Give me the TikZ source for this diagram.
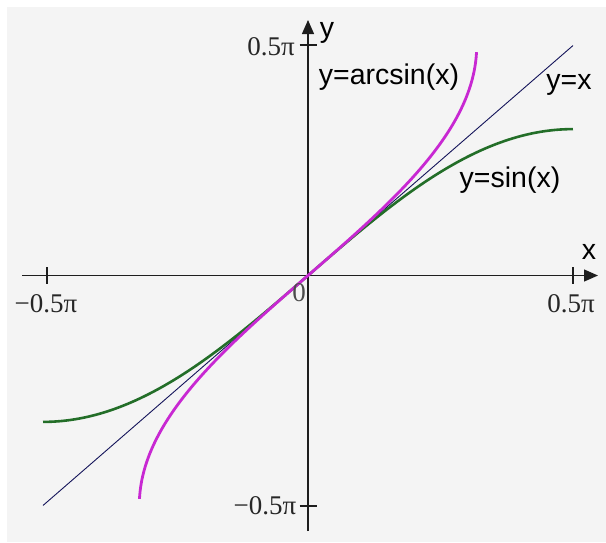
\documentclass[tikz,border=0pt]{standalone}
\usepackage{fontspec}
\setmainfont{Liberation Serif}
\newfontfamily\lsans{Liberation Sans}
\usetikzlibrary{arrows.meta}
\definecolor{bggray}{RGB}{244,244,244}
\definecolor{axisgray}{RGB}{30,30,30}
\definecolor{sincol}{RGB}{35,110,40}
\definecolor{asincol}{RGB}{200,40,210}
\definecolor{idcol}{RGB}{20,20,90}
\tikzset{
  axisline/.style={draw=axisgray, line width=1.3pt, -{Triangle[length=14pt,width=12pt]}},
  tickline/.style={draw=axisgray, line width=1.3pt},
  serlab/.style={inner sep=0pt, font=\fontsize{27}{29}\selectfont, text=black!85},
  sanslab/.style={inner sep=0pt, font=\lsans\fontsize{28.5}{31}\selectfont, text=black},
  sincurve/.style={draw=sincol, line width=2.6pt},
  asincurve/.style={draw=asincol, line width=2.8pt},
  idline/.style={draw=idcol, line width=0.9pt}
}
\begin{document}
\begin{tikzpicture}[x=1pt,y=-1pt]
\useasboundingbox (0,0) rectangle (606,542);
\fill[bggray] (7,7) rectangle (606,542);
% axes
\coordinate (xl) at (22,275.5);
\coordinate (xr) at (598,275.5);
\coordinate (yb) at (308,531);
\coordinate (yt) at (308,20);
\draw[axisline] (xl) -- (xr);
\draw[axisline] (yb) -- (yt);
% ticks
\coordinate (tx1a) at (47,267); \coordinate (tx1b) at (47,284);
\coordinate (tx2a) at (573,267); \coordinate (tx2b) at (573,284);
\coordinate (ty1a) at (299.5,45); \coordinate (ty1b) at (316.5,45);
\coordinate (ty2a) at (299.5,506); \coordinate (ty2b) at (316.5,506);
\draw[tickline] (tx1a) -- (tx1b);
\draw[tickline] (tx2a) -- (tx2b);
\draw[tickline] (ty1a) -- (ty1b);
\draw[tickline] (ty2a) -- (ty2b);
% curves
\begin{scope}[shift={(308,275.5)}, x={(168.7pt,0pt)}, y={(0pt,146.4pt)}]
  \coordinate (idA) at ({-pi/2},{-pi/2});
  \coordinate (idB) at ({pi/2},{pi/2});
  \draw[idline] (idA) -- (idB);
  \draw[sincurve] plot[domain=-90:90, samples=90, smooth] ({\x*pi/180},{sin(\x)});
  \draw[asincurve] plot[domain=-87.4:87.4, samples=120, smooth] ({sin(\x)},{\x*pi/180});
\end{scope}
% labels
\node[serlab] (ltop) at (271,47) {0.5π};
\node[serlab] (lbot) at (265,506) {−0.5π};
\node[serlab] (lleft) at (46,304) {−0.5π};
\node[serlab] (lright) at (571,304) {0.5π};
\node[serlab, text=black!70] (lzero) at (299,293) {0};
\node[sanslab] (ly) at (327,33) {y};
\node[sanslab] (lx) at (589,252) {x};
\node[sanslab] (lasin) at (389,77) {y=arcsin(x)};
\node[sanslab] (lid) at (569,85) {y=x};
\node[sanslab] (lsin) at (510,180) {y=sin(x)};
\end{tikzpicture}
\end{document}
